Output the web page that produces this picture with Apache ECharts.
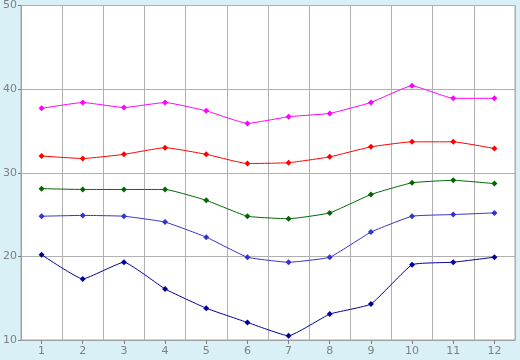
<!DOCTYPE html>
<html><head><meta charset="utf-8">
<script src="https://cdn.jsdelivr.net/npm/echarts@6/dist/echarts.min.js"></script>
<style>html,body{margin:0;padding:0;background:#d9f0f7}#c{width:520px;height:360px}</style>
</head><body><div id="c"></div>
<script>
var categories = ['1','2','3','4','5','6','7','8','9','10','11','12'];
var magentaValues = [37.7,38.4,37.8,38.4,37.4,35.9,36.7,37.1,38.4,40.4,38.9,38.9];
var redValues = [32.0,31.7,32.2,33.0,32.2,31.1,31.2,31.9,33.1,33.7,33.7,32.9];
var greenValues = [28.1,28.0,28.0,28.0,26.7,24.8,24.5,25.2,27.4,28.8,29.1,28.7];
var blueValues = [24.8,24.9,24.8,24.1,22.3,19.9,19.3,19.9,22.9,24.8,25.0,25.2];
var navyValues = [20.2,17.3,19.3,16.1,13.8,12.1,10.5,13.1,14.3,19.0,19.3,19.9];
var yTicks = {min:10, max:50, interval:10};

function mk(data, color){
  return {type:'line', data:data, smooth:0.12, symbol:'diamond', symbolSize:6,
    showSymbol:true, lineStyle:{color:color,width:1}, itemStyle:{color:color}, z:3};
}
var chart = echarts.init(document.getElementById('c'));
chart.setOption({
  backgroundColor:'#d9f0f7',
  animation:false,
  grid:{left:20,right:5,top:5,bottom:20,show:true,backgroundColor:'#ffffff',borderColor:'#a8a8a8',borderWidth:1},
  xAxis:{type:'category',data:categories,boundaryGap:true,
    axisLine:{lineStyle:{color:'#a0a0a0'}},
    axisTick:{show:true,alignWithLabel:true,length:4,lineStyle:{color:'#808080'}},
    axisLabel:{color:'#808080',fontFamily:'DejaVu Sans',fontSize:11,margin:6},
    splitLine:{show:true,lineStyle:{color:'#b0b0b0',width:1}}},
  yAxis:{type:'value',min:yTicks.min,max:yTicks.max,interval:yTicks.interval,
    axisLine:{show:true,lineStyle:{color:'#a0a0a0'}},
    axisTick:{show:true,length:3,lineStyle:{color:'#808080'}},
    axisLabel:{color:'#808080',fontFamily:'DejaVu Sans',fontSize:11,margin:4},
    splitLine:{show:true,lineStyle:{color:'#b0b0b0',width:1}}},
  series:[mk(magentaValues,'#ff00ff'),mk(redValues,'#ff0000'),mk(greenValues,'#006600'),mk(blueValues,'#3333cc'),mk(navyValues,'#000099')]
});
</script></body></html>
